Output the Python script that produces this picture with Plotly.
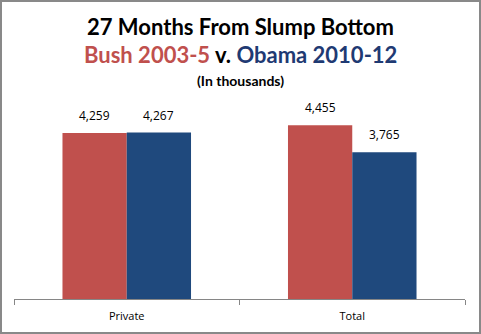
import plotly.graph_objects as go

categories = ["Private", "Total"]
bush_values = [4259, 4455]
obama_values = [4267, 3765]
series_names = ["Bush 2003-5", "Obama 2010-12"]

RED = "#C0504D"
BLUE = "#1F497D"

W, H = 481, 334
L, R, T, B = 14, 16, 65, 35
pw, ph = W - L - R, H - T - B
BAR_HALF = 32

fig = go.Figure()
for name, vals, col in [(series_names[0], bush_values, RED), (series_names[1], obama_values, BLUE)]:
    fig.add_trace(go.Bar(
        x=categories, y=vals, name=name, marker=dict(color=col, line=dict(width=0)),
    ))

def px2paper_x(px):
    return (px - L) / pw

def px2paper_y(py):
    return (H - B - py) / ph

annotations = [
    dict(text="<b>27 Months From Slump Bottom</b>", xref="paper", yref="paper",
         x=px2paper_x(240), y=px2paper_y(27), showarrow=False,
         font=dict(family="Lato", size=22, color="#000000"), xanchor="center", yanchor="middle"),
    dict(text=f"<b><span style='color:{RED}'>Bush 2003-5</span> v. <span style='color:#1F3A73'>Obama 2010-12</span></b>",
         xref="paper", yref="paper",
         x=px2paper_x(240), y=px2paper_y(55), showarrow=False,
         font=dict(family="Lato", size=22, color="#000000"), xanchor="center", yanchor="middle"),
    dict(text="<b>(In thousands)</b>", xref="paper", yref="paper",
         x=px2paper_x(240), y=px2paper_y(80), showarrow=False,
         font=dict(family="Lato", size=14, color="#000000"), xanchor="center", yanchor="middle"),
]
for vals, shift in [(bush_values, -BAR_HALF), (obama_values, BAR_HALF)]:
    for c, v in zip(categories, vals):
        annotations.append(dict(
            text=f"{v:,}", x=c, y=v, xref="x", yref="y", showarrow=False,
            xshift=shift, yshift=7, yanchor="bottom", xanchor="center",
            font=dict(family="Open Sans", size=12, color="#000000"),
        ))

fig.update_layout(
    width=W, height=H,
    margin=dict(l=L, r=R, t=T, b=B),
    paper_bgcolor="white", plot_bgcolor="white",
    barmode="group", bargap=0.43, bargroupgap=0,
    showlegend=False,
    font=dict(family="Open Sans", size=11, color="#000000"),
    xaxis=dict(
        showline=True, linecolor="#868686", linewidth=1,
        ticks="outside", tickson="boundaries", ticklen=5, tickcolor="#868686",
        ticklabelstandoff=7,
        showgrid=False, tickfont=dict(family="Open Sans", size=11, color="#000000"),
    ),
    yaxis=dict(range=[0, 6000], visible=False, showgrid=False),
    shapes=[dict(
        type="rect", xref="paper", yref="paper",
        x0=px2paper_x(1), x1=px2paper_x(480), y0=px2paper_y(333), y1=px2paper_y(1),
        line=dict(color="#898989", width=2), fillcolor="rgba(0,0,0,0)", layer="above",
    )],
    annotations=annotations,
)

fig.write_html("out.html")
